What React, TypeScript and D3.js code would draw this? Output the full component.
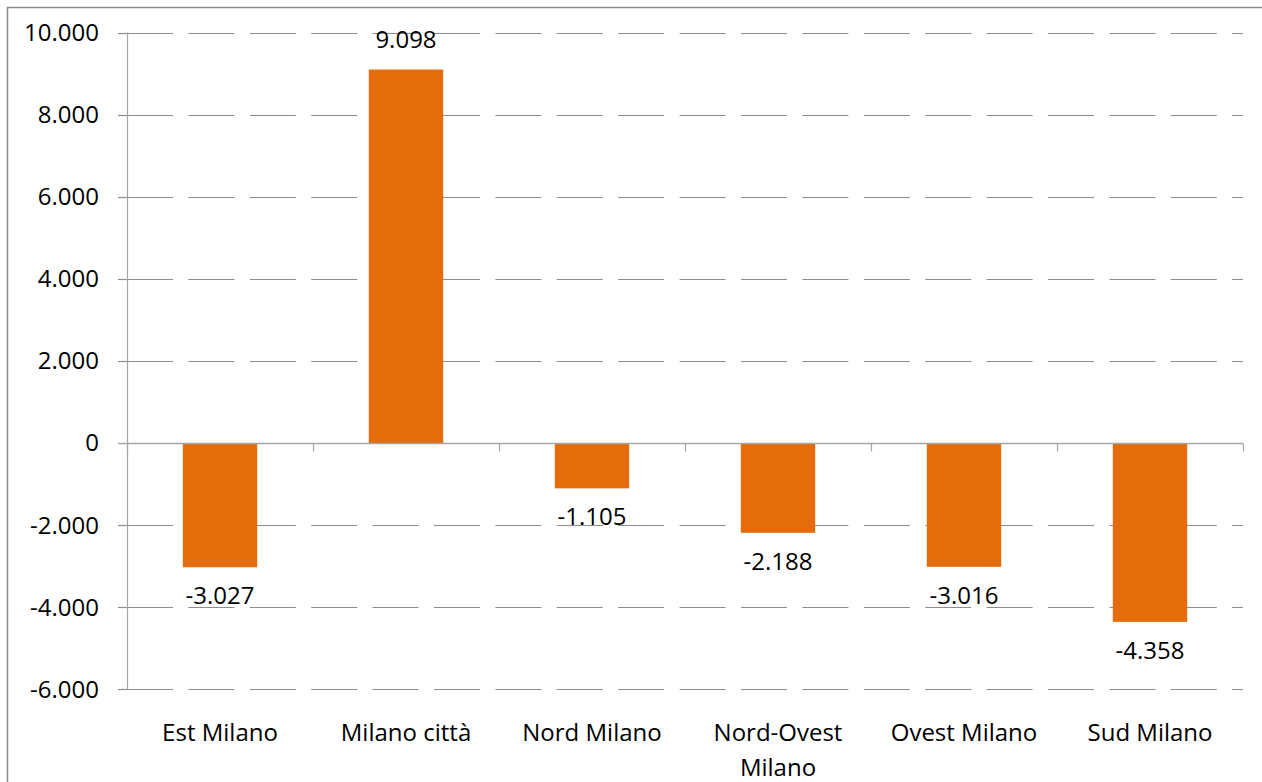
import React, { useEffect, useRef } from "react";
import * as d3 from "d3";

// Saldo per area della provincia di Milano
const categories = ["Est Milano", "Milano città", "Nord Milano", "Nord-Ovest Milano", "Ovest Milano", "Sud Milano"];
const values = [-3027, 9098, -1105, -2188, -3016, -4358];
const yTicks = [-6000, -4000, -2000, 0, 2000, 4000, 6000, 8000, 10000];

const W = 1262;
const H = 782;
const FONT = "'Open Sans', 'Noto Sans', sans-serif";

const it = d3.formatLocale({ decimal: ",", thousands: ".", grouping: [3], currency: ["€", ""], minus: "-" });
const fmt = it.format(",.0f");

export default function App() {
  const ref = useRef<SVGSVGElement>(null);

  useEffect(() => {
    const svg = d3.select(ref.current);
    svg.selectAll("*").remove();

    const left = 127;
    const right = 1243;
    const top = 32.5;
    const bottom = 689.3;

    const x = d3.scaleBand<string>().domain(categories).range([left, right]).paddingInner(0.6).paddingOuter(0.3);
    const y = d3.scaleLinear().domain([-6000, 10000]).range([bottom, top]);
    const step = x.step();

    // outer frame
    svg.append("rect")
      .attr("x", 7.5).attr("y", 7.5)
      .attr("width", W + 20).attr("height", H + 20)
      .attr("fill", "white").attr("stroke", "#8c8c8c").attr("stroke-width", 1.5);

    // gridlines (dashed) with tick stubs on the left
    const grid = svg.append("g");
    yTicks.filter((t) => t !== 0).forEach((t) => {
      const yy = Math.round(y(t)) + 0.5;
      grid.append("line")
        .attr("x1", left - 9).attr("x2", left).attr("y1", yy).attr("y2", yy)
        .attr("stroke", "#8c8c8c").attr("stroke-width", 1.2);
      grid.append("line")
        .attr("x1", left).attr("x2", right).attr("y1", yy).attr("y2", yy)
        .attr("stroke", "#8c8c8c").attr("stroke-width", 1.2)
        .attr("stroke-dasharray", "46 15.4");
    });

    // y axis line
    svg.append("line")
      .attr("x1", left + 0.5).attr("x2", left + 0.5).attr("y1", y(10000)).attr("y2", y(-6000))
      .attr("stroke", "#a6a6a6").attr("stroke-width", 1.2);

    // y tick labels
    svg.append("g").selectAll("text").data(yTicks).join("text")
      .attr("x", 99).attr("y", (d) => y(d)).attr("dy", "0.35em")
      .attr("text-anchor", "end")
      .attr("font-family", FONT).attr("font-size", 24).attr("fill", "#000")
      .text((d) => fmt(d));

    // bars
    svg.append("g").selectAll("rect").data(values).join("rect")
      .attr("x", (_, i) => x(categories[i])!)
      .attr("width", x.bandwidth())
      .attr("y", (d) => y(Math.max(0, d)))
      .attr("height", (d) => Math.abs(y(d) - y(0)))
      .attr("fill", "#e46c0a");

    // zero axis with category tick marks
    const y0 = Math.round(y(0)) + 0.5;
    svg.append("line")
      .attr("x1", left - 9).attr("x2", right).attr("y1", y0).attr("y2", y0)
      .attr("stroke", "#a6a6a6").attr("stroke-width", 1.5);
    const bounds = d3.range(categories.length + 1).map((i) => left + i * step);
    svg.append("g").selectAll("line").data(bounds).join("line")
      .attr("x1", (d) => d + 0.5).attr("x2", (d) => d + 0.5)
      .attr("y1", y0).attr("y2", y0 + 8)
      .attr("stroke", "#a6a6a6").attr("stroke-width", 1.2);

    // value labels
    svg.append("g").selectAll("text").data(values).join("text")
      .attr("x", (_, i) => x(categories[i])! + x.bandwidth() / 2)
      .attr("y", (d) => (d >= 0 ? y(d) - 22 : y(d) + 37))
      .attr("text-anchor", "middle")
      .attr("font-family", FONT).attr("font-size", 24).attr("fill", "#000")
      .text((d) => fmt(d));

    // category labels, wrapped to the band width
    const catG = svg.append("g");
    categories.forEach((c) => {
      const cx = x(c)! + x.bandwidth() / 2;
      const t = catG.append("text")
        .attr("x", cx).attr("y", 741)
        .attr("text-anchor", "middle")
        .attr("font-family", FONT).attr("font-size", 24).attr("fill", "#000");
      const words = c.split(" ");
      let line: string[] = [];
      let lineNo = 0;
      let tspan = t.append("tspan").attr("x", cx).attr("y", 741);
      words.forEach((w) => {
        line.push(w);
        tspan.text(line.join(" "));
        if ((tspan.node() as SVGTSPanElement).getComputedTextLength() > step - 10 && line.length > 1) {
          line.pop();
          tspan.text(line.join(" "));
          line = [w];
          lineNo += 1;
          tspan = t.append("tspan").attr("x", cx).attr("y", 741 + lineNo * 35).text(w);
        }
      });
    });
  }, []);

  return (
    <svg
      ref={ref}
      width={W}
      height={H}
      style={{ position: "absolute", left: 0, top: 0, background: "#fff" }}
    />
  );
}
